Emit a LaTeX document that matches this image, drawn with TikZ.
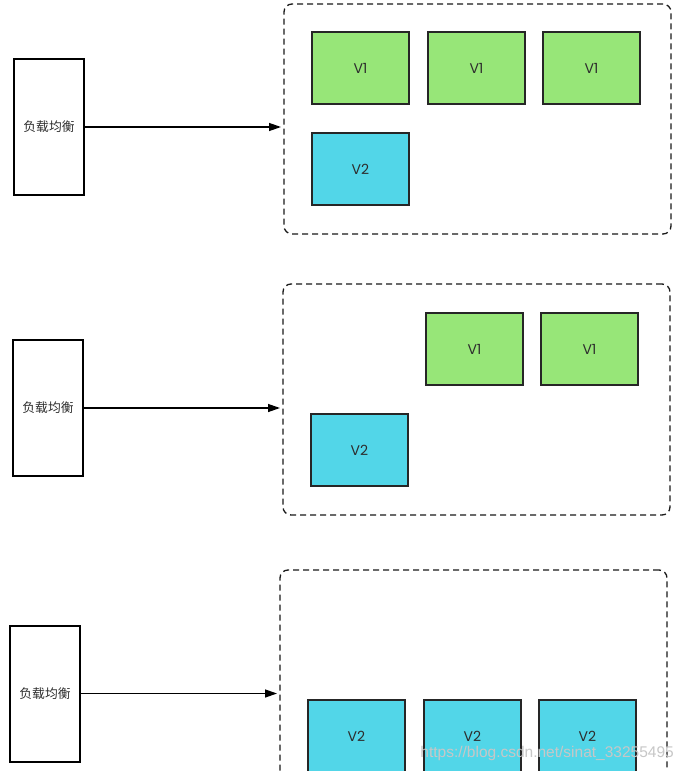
\documentclass[tikz,border=0pt]{standalone}
\usepackage{fontspec}
\setmainfont{Poppins}
\newfontfamily\cjk{Noto Sans CJK SC}
\newfontfamily\wmfont{Liberation Sans}
\usetikzlibrary{arrows.meta}
\definecolor{vgreen}{RGB}{151,230,120}
\definecolor{vblue}{RGB}{82,214,232}
\definecolor{txt}{RGB}{45,45,45}
\tikzset{
  lbbox/.style={draw=black, line width=1.4pt, fill=white, minimum width=70pt, minimum height=136pt, inner sep=0pt, font=\cjk\fontsize{12.8}{14}\selectfont, text=txt},
  vbox/.style={draw=black!85, line width=1.5pt, minimum width=97pt, minimum height=72pt, inner sep=0pt, font=\fontsize{14}{16}\selectfont, text=txt},
  v1box/.style={vbox, fill=vgreen},
  v2box/.style={vbox, fill=vblue},
  container/.style={draw=black!90, line width=1.3pt, dash pattern=on 6pt off 4pt, rounded corners=8pt, inner sep=0pt},
  lbarrow/.style={line width=1.3pt, -{Triangle[length=12pt,width=8pt]}}
}
\begin{document}
\begin{tikzpicture}[x=1pt,y=-1pt]
\useasboundingbox (0,0) rectangle (682,771);
\clip (0,0) rectangle (682,771);
\fill[white] (0,0) rectangle (682,771);
% panel 1
\node[container, minimum width=387pt, minimum height=230pt] (c1) at (477.5,119) {};
\node[lbbox] (lb1) at (49,127) {负载均衡};
\coordinate (t1) at (281,127);
\draw[lbarrow] (lb1.east |- t1) -- (t1);
\node[v1box] (a11) at (360.5,68) {V1};
\node[v1box] (a12) at (476.5,68) {V1};
\node[v1box] (a13) at (591.5,68) {V1};
\node[v2box] (b11) at (360.5,169) {V2};
% panel 2
\node[container, minimum width=387pt, minimum height=231pt] (c2) at (476.5,399.5) {};
\node[lbbox] (lb2) at (48,408) {负载均衡};
\coordinate (t2) at (280,408);
\draw[lbarrow] (lb2.east |- t2) -- (t2);
\node[v1box] (a22) at (474.5,349) {V1};
\node[v1box] (a23) at (589.5,349) {V1};
\node[v2box] (b21) at (359.5,450) {V2};
% panel 3
\node[container, minimum width=387pt, minimum height=231pt] (c3) at (473.5,685.5) {};
\node[lbbox] (lb3) at (45,694) {负载均衡};
\coordinate (t3) at (277,693.5);
\draw[lbarrow] (lb3.east |- t3) -- (t3);
\node[v2box] (b31) at (356.5,736) {V2};
\node[v2box] (b32) at (472.5,736) {V2};
\node[v2box] (b33) at (587.5,736) {V2};
% watermark
\node[anchor=east, inner sep=0pt, text=black!22, font=\wmfont\fontsize{15.5}{17}\selectfont] (wm) at (674,753) {https://blog.csdn.net/sinat\_33255495};
\end{tikzpicture}
\end{document}
